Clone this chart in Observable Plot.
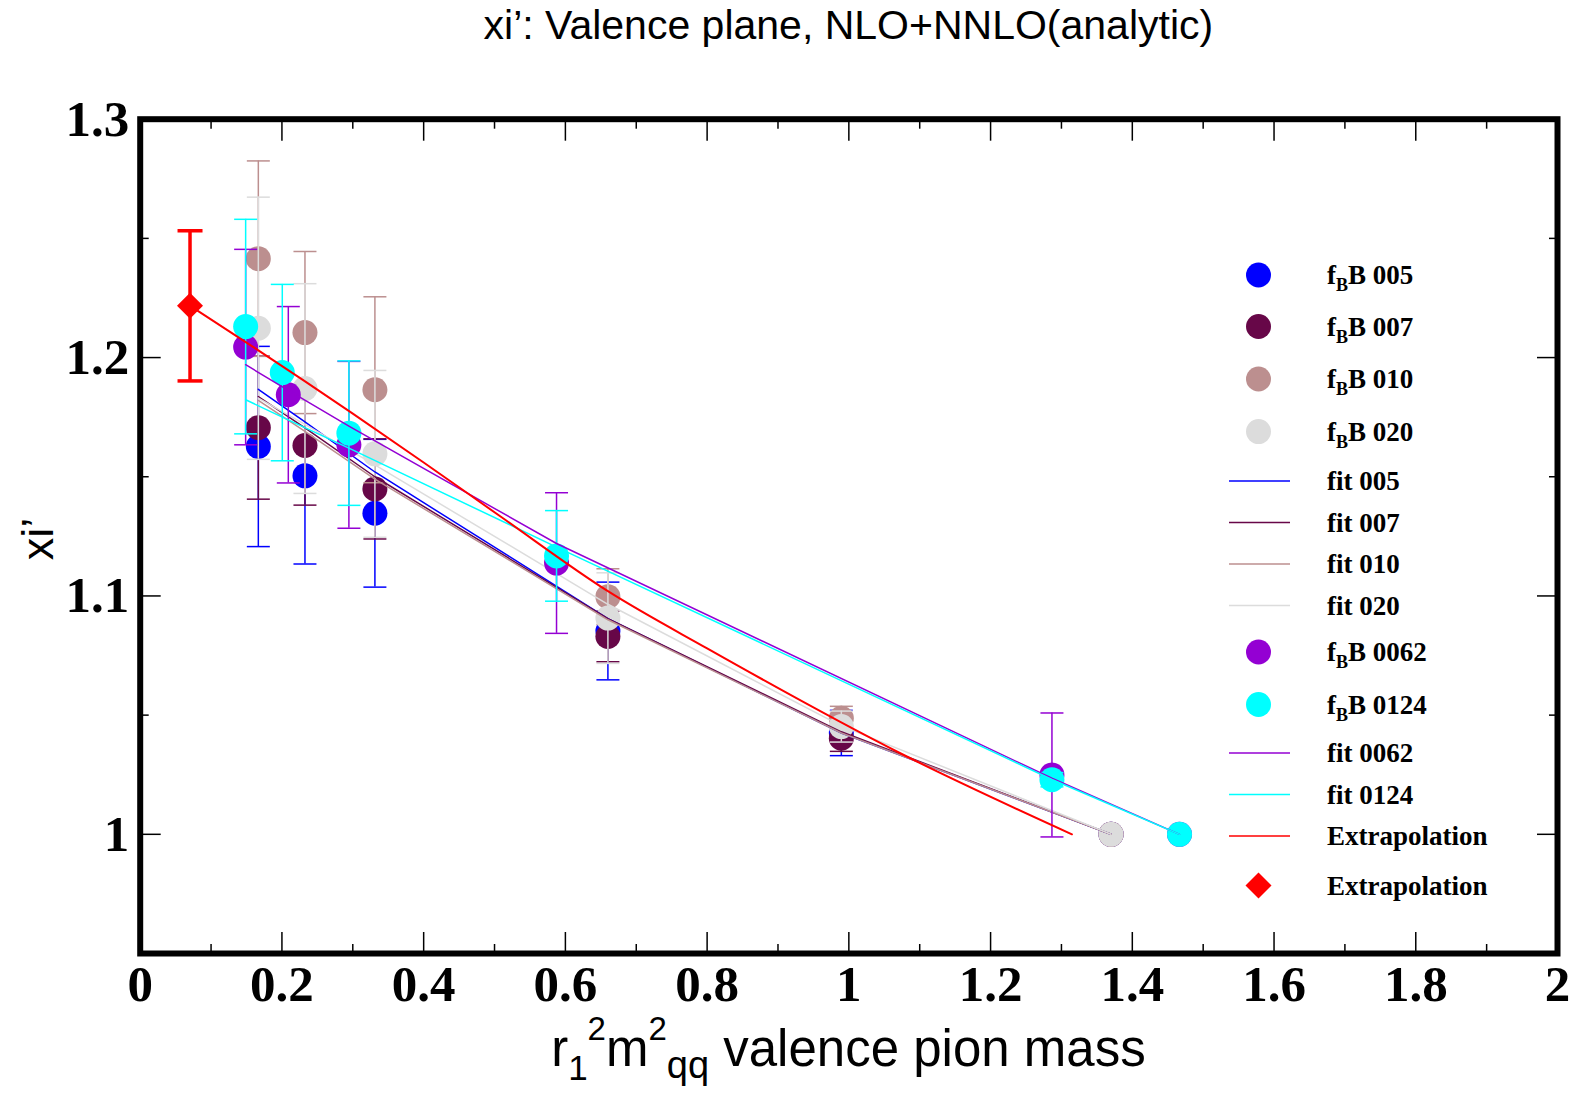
<!DOCTYPE html>
<html><head><meta charset="utf-8">
<script src="https://cdn.jsdelivr.net/npm/d3@7"></script>
<script src="https://cdn.jsdelivr.net/npm/@observablehq/plot@0.6"></script>
<style>
body{margin:0;background:#fff;}
#wrap{position:relative;width:1585px;height:1093px;background:#fff;}
#wrap svg{position:absolute;left:0;top:0;}
</style></head><body><div id="wrap"></div>
<script>
// ---- data ----
const xCoarse = [0.1667, 0.2325, 0.3312, 0.660, 0.9894, 1.370];
const x0062 = [0.1488, 0.209, 0.2945, 0.5875, 1.2866, 1.4666];
const x0124 = [0.1488, 0.2005, 0.2945, 0.5875, 1.2866, 1.4666];

const y005 = [1.1627, 1.1504, 1.1347, 1.0853, 1.0425, 1.0];
const e005 = [0.042, 0.037, 0.031, 0.0205, 0.0095, 0];
const y007 = [1.1706, 1.1631, 1.1449, 1.0830, 1.0403, 1.0];
const e007 = [0.030, 0.025, 0.021, 0.0106, 0.0055, 0];
const y010 = [1.2415, 1.2105, 1.1865, 1.0997, 1.0487, 1.0];
const e010 = [0.041, 0.034, 0.039, 0.0117, 0.005, 0];
const y020 = [1.2123, 1.1870, 1.1596, 1.0907, 1.0452, 1.0];
const e020 = [0.055, 0.044, 0.035, 0.019, 0.0065, 0];
const y0062 = [1.2044, 1.1844, 1.1634, 1.1138, 1.0249, 1.0];
const e0062 = [0.041, 0.037, 0.035, 0.0295, 0.026, 0];
const y0124 = [1.2130, 1.1937, 1.1683, 1.1168, 1.0229, 1.0];
const e0124 = [0.045, 0.037, 0.0303, 0.019, 0.003, 0];

const fit005 = [1.1867, 1.1730, 1.1520, 1.0905, 1.0425, 1.0];
const fit007 = [1.1836, 1.1705, 1.1500, 1.0905, 1.0430, 1.0];
const fit010 = [1.1820, 1.1690, 1.1490, 1.0900, 1.0425, 1.0];
const fit020 = [1.1830, 1.1720, 1.1550, 1.0965, 1.0455, 1.0];
const fit0062 = [1.1970, 1.1862, 1.1712, 1.1220, 1.0235, 1.0];
const fit0124 = [1.1823, 1.1750, 1.1620, 1.1205, 1.0230, 1.0];

const extrapLineX = [0.0703, 0.15, 0.30, 0.40, 0.51, 0.66, 0.80, 1.074, 1.3148];
const extrapLineY = [1.2217, 1.2063, 1.1765, 1.1560, 1.1330, 1.1020, 1.0780, 1.0338, 1.0];
const extrapX = [0.0703];
const extrapY = [1.2217];
const extrapErr = [0.0315];

const xMajor = [0, 0.2, 0.4, 0.6, 0.8, 1, 1.2, 1.4, 1.6, 1.8, 2];
const xMinor = [0.1, 0.3, 0.5, 0.7, 0.9, 1.1, 1.3, 1.5, 1.7, 1.9];
const yMajor = [1, 1.1, 1.2, 1.3];
const yMinor = [1.05, 1.15, 1.25];

const colors = {"005": "#0000ff", "007": "#670748", "010": "#bc8f8f", "020": "#dcdcdc",
                "0062": "#9400d3", "0124": "#00ffff", extrap: "#ff0000"};

// ---- build tables ----
const rows = (xs, ys, es) => xs.map((x, i) => ({x, y: ys[i], e: es ? es[i] : 0}));
const capSymbol = {draw(ctx, size) { const r = Math.sqrt(size / Math.PI); ctx.moveTo(-r, 0); ctx.lineTo(r, 0); }};

function pointMarks(data, color, opt = {}) {
  const sw = opt.sw ?? 1.5, capR = opt.capR ?? 11.5;
  const withErr = data.filter(d => d.e > 0);
  const caps = withErr.flatMap(d => [{x: d.x, y: d.y - d.e}, {x: d.x, y: d.y + d.e}]);
  return [
    Plot.ruleX(withErr, {x: "x", y1: d => d.y - d.e, y2: d => d.y + d.e, stroke: color, strokeWidth: sw}),
    Plot.dot(caps, {x: "x", y: "y", symbol: capSymbol, r: capR, stroke: color, strokeWidth: sw, fill: "none"}),
    Plot.dot(data, {x: "x", y: "y", r: opt.r ?? 12.5, symbol: opt.symbol ?? "circle", fill: color, stroke: "none"})
  ];
}
const fitLine = (xs, ys, color, sw = 1.5, curve = "linear") =>
  Plot.line(rows(xs, ys), {x: "x", y: "y", stroke: color, strokeWidth: sw, curve});

const tickOpts = {tickFormat: () => "", label: null, strokeWidth: 1.5};
const serif = {fontFamily: "Liberation Serif, Times New Roman, serif", fontWeight: "bold", fontSize: 51, label: null};

const chart = Plot.plot({
  width: 1585, height: 1093,
  marginLeft: 139.7, marginRight: 28, marginTop: 118.7, marginBottom: 140,
  x: {domain: [0, 2]},
  y: {domain: [0.95, 1.3]},
  style: {background: "white", color: "black"},
  marks: [
    // coarse ensembles
    ...pointMarks(rows(xCoarse, y005, e005), colors["005"]),
    ...pointMarks(rows(xCoarse, y007, e007), colors["007"]),
    ...pointMarks(rows(xCoarse, y010, e010), colors["010"]),
    ...pointMarks(rows(xCoarse, y020, e020), colors["020"]),
    fitLine(xCoarse, fit005, colors["005"]),
    fitLine(xCoarse, fit007, colors["007"]),
    fitLine(xCoarse, fit010, colors["010"]),
    fitLine(xCoarse, fit020, colors["020"]),
    // fine ensembles
    ...pointMarks(rows(x0062, y0062, e0062), colors["0062"]),
    ...pointMarks(rows(x0124, y0124, e0124), colors["0124"]),
    fitLine(x0062, fit0062, colors["0062"]),
    fitLine(x0124, fit0124, colors["0124"]),
    // extrapolation
    fitLine(extrapLineX, extrapLineY, colors.extrap, 2, "monotone-x"),
    ...pointMarks(rows(extrapX, extrapY, extrapErr), colors.extrap, {sw: 3.5, capR: 12.5, r: 11.7, symbol: "diamond2"}),
    // ticks (inward, all four sides)
    Plot.axisX(xMajor, {anchor: "bottom", tickSize: -21, ...tickOpts}),
    Plot.axisX(xMinor, {anchor: "bottom", tickSize: -9, ...tickOpts}),
    Plot.axisX(xMajor, {anchor: "top", tickSize: -21, ...tickOpts}),
    Plot.axisX(xMinor, {anchor: "top", tickSize: -9, ...tickOpts}),
    Plot.axisY(yMajor, {anchor: "left", tickSize: -21, ...tickOpts}),
    Plot.axisY(yMinor, {anchor: "left", tickSize: -9, ...tickOpts}),
    Plot.axisY(yMajor, {anchor: "right", tickSize: -21, ...tickOpts}),
    Plot.axisY(yMinor, {anchor: "right", tickSize: -9, ...tickOpts}),
    // tick labels
    Plot.axisX(xMajor, {anchor: "bottom", tickSize: 0, tickPadding: 11.5, tickFormat: d => String(d), ...serif}),
    Plot.axisY(yMajor, {anchor: "left", tickSize: 0, tickPadding: 11, tickFormat: d => String(d), ...serif}),
    Plot.frame({stroke: "black", strokeWidth: 6})
  ]
});
document.getElementById("wrap").appendChild(chart);

// ---- overlay: title, axis titles, legend ----
const ov = d3.select("#wrap").append("svg").attr("width", 1585).attr("height", 1093)
  .style("pointer-events", "none");
const sans = "Liberation Sans, Arial, Helvetica, sans-serif";
ov.append("text").attr("x", 848.4).attr("y", 39).attr("text-anchor", "middle")
  .attr("font-family", sans).attr("font-size", 41).text("xi’: Valence plane, NLO+NNLO(analytic)");

const xl = ov.append("text").attr("x", 848.4).attr("y", 1066).attr("text-anchor", "middle")
  .attr("font-family", sans).attr("font-size", 51);
xl.append("tspan").text("r");
xl.append("tspan").attr("font-size", 35).attr("dy", 14).text("1");
xl.append("tspan").attr("font-size", 33).attr("dy", -40).text("2");
xl.append("tspan").attr("dy", 26).text("m");
xl.append("tspan").attr("font-size", 33).attr("dy", -26).text("2");
xl.append("tspan").attr("font-size", 38).attr("dy", 38).text("qq");
xl.append("tspan").attr("dy", -12).text(" valence pion mass");

ov.append("text").attr("transform", "translate(53,539) rotate(-90)").attr("text-anchor", "middle")
  .attr("font-family", sans).attr("font-size", 45).text("xi’");

const legendItems = [
  {kind: "dot", key: "005", sub: true, label: "B 005"},
  {kind: "dot", key: "007", sub: true, label: "B 007"},
  {kind: "dot", key: "010", sub: true, label: "B 010"},
  {kind: "dot", key: "020", sub: true, label: "B 020"},
  {kind: "line", key: "005", label: "fit 005"},
  {kind: "line", key: "007", label: "fit 007"},
  {kind: "line", key: "010", label: "fit 010"},
  {kind: "line", key: "020", label: "fit 020"},
  {kind: "dot", key: "0062", sub: true, label: "B 0062"},
  {kind: "dot", key: "0124", sub: true, label: "B 0124"},
  {kind: "line", key: "0062", label: "fit 0062"},
  {kind: "line", key: "0124", label: "fit 0124"},
  {kind: "line", key: "extrap", label: "Extrapolation"},
  {kind: "diamond", key: "extrap", label: "Extrapolation"}
];
const legendY = [275, 326.5, 379, 431.6, 481, 522.6, 564, 605.5, 652, 704.5, 753, 794.5, 836, 885.5];
const lg = ov.append("g");
const serifFont = "Liberation Serif, Times New Roman, serif";
legendItems.forEach((it, i) => {
  const cy = legendY[i], c = colors[it.key];
  if (it.kind === "dot") lg.append("circle").attr("cx", 1258.5).attr("cy", cy).attr("r", 12.5).attr("fill", c);
  else if (it.kind === "line") lg.append("line").attr("x1", 1229).attr("x2", 1290).attr("y1", cy).attr("y2", cy)
    .attr("stroke", c).attr("stroke-width", 1.5);
  else lg.append("path").attr("d", d3.symbol(d3.symbolDiamond2, 11.7 * 11.7 * Math.PI)()).attr("transform", `translate(1258.5,${cy})`).attr("fill", c);
  const t = lg.append("text").attr("x", 1327).attr("y", cy + 9).attr("font-family", serifFont)
    .attr("font-weight", "bold").attr("font-size", 27);
  if (it.sub) {
    t.append("tspan").text("f");
    t.append("tspan").attr("font-size", 18).attr("dy", 7).text("B");
    t.append("tspan").attr("dy", -7).text(it.label);
  } else t.text(it.label);
});
</script></body></html>
